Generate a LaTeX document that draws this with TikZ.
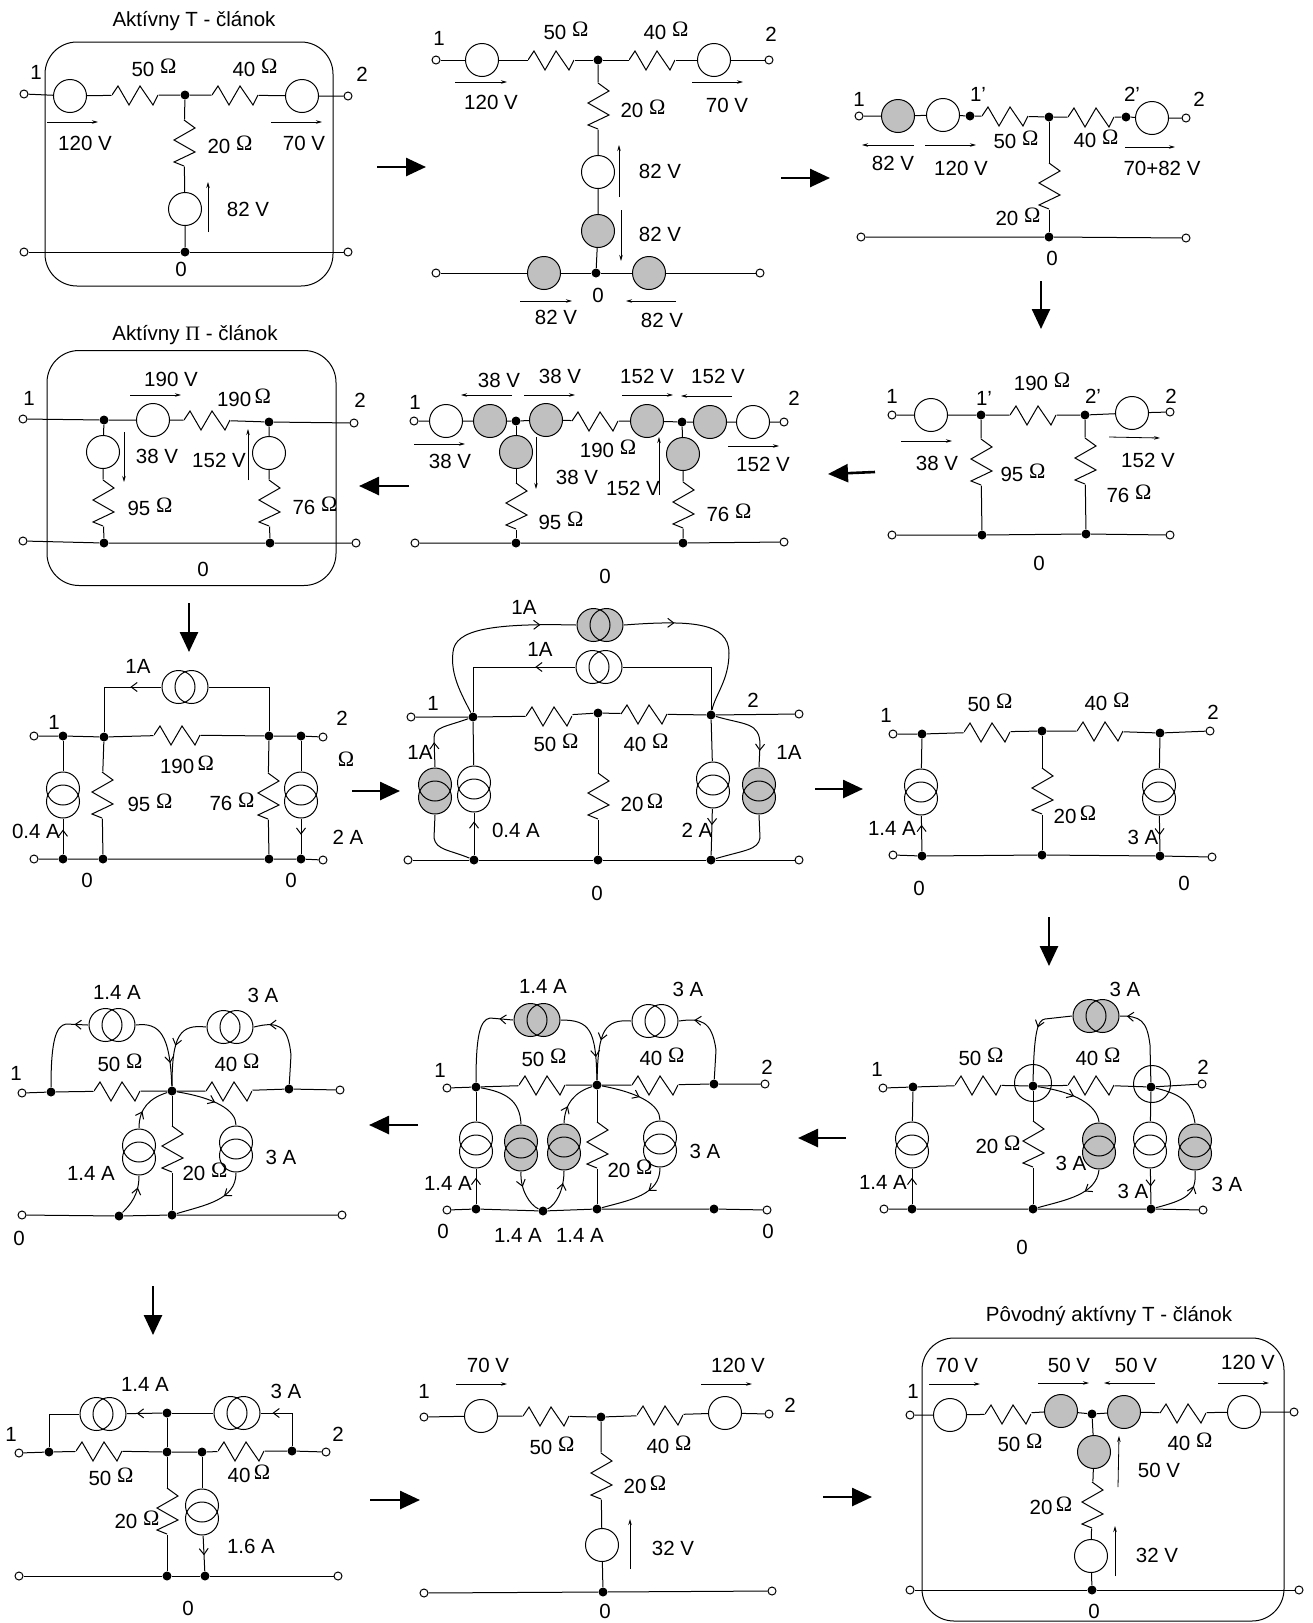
\documentclass[tikz,border=0pt]{standalone}
\usepackage{fontspec}
\setmainfont{Liberation Sans}
\newfontfamily\omfont{Liberation Serif}
\usetikzlibrary{arrows.meta,decorations.markings}
\definecolor{srcgray}{RGB}{192,192,192}
\newcommand{\Om}{\raisebox{2.5pt}{\fontsize{22}{24}\omfont Ω}}
\newcommand{\putnodes}[2]{\foreach \n/\x/\y in {#2}{\node[#1] (\n) at (\x,\y) {};}}
\newcommand{\labels}[1]{\foreach \x/\y/\txt [count=\k] in {#1}{\node[lbl] (lab\k) at (\x,\y) {\txt};}}
\newcommand{\volts}[1]{\foreach \xa/\ya/\xb/\yb [count=\k] in {#1}{
    \coordinate (ua\k) at (\xa,\ya);
    \coordinate (ub\k) at (\xb,\yb);
    \draw [arrow] (ua\k) -- (ub\k);}}
\newcommand{\flows}[1]{\foreach \xa/\ya/\xb/\yb [count=\k] in {#1}{
    \coordinate (fa\k) at (\xa,\ya);
    \coordinate (fb\k) at (\xb,\yb);
    \draw [flow] (fa\k) -- (fb\k);}}
\tikzstyle{arrow} = [line width=0.8pt,-{Stealth[length=6pt,width=3.5pt]}]
\tikzstyle{flow} = [line width=2.6pt,-{Triangle[length=20pt,width=18pt]}]
\tikzstyle{lbl} = [inner sep=0pt, font=\fontsize{20.5}{24}\selectfont]
\tikzstyle{term} = [circle, draw, fill=white, inner sep=0pt, minimum size=8pt]
\tikzstyle{joint} = [circle, fill=black, inner sep=0pt, minimum size=9pt]
\tikzstyle{ring} = [circle, draw, inner sep=0pt, minimum size=37pt]
\tikzstyle{framebox} = [draw, rounded corners=32pt, inner sep=0pt]
\tikzset{
    vsrc/.style={circle, draw, fill=#1, inner sep=0pt, minimum size=33pt},
    vsrc/.default=white,
    isrch/.style={inner sep=0pt, minimum width=47pt, minimum height=35pt, path picture={
        \begin{scope}[shift={(path picture bounding box.center)}]
            \fill [#1] (-6.5,0) circle (16.5pt) (6.5,0) circle (16.5pt);
            \draw (-6.5,0) circle (16.5pt) (6.5,0) circle (16.5pt);
        \end{scope}}},
    isrch/.default=white,
    isrcv/.style={inner sep=0pt, minimum width=35pt, minimum height=47pt, path picture={
        \begin{scope}[shift={(path picture bounding box.center)}]
            \fill [#1] (0,-6.5) circle (16.5pt) (0,6.5) circle (16.5pt);
            \draw (0,-6.5) circle (16.5pt) (0,6.5) circle (16.5pt);
        \end{scope}}},
    isrcv/.default=white,
    resh/.style={inner sep=0pt, minimum width=46pt, minimum height=24pt, path picture={
        \draw [shift={(path picture bounding box.center)}] (-23,0) -- (-17,-9) -- (-6,10) -- (5,-9) -- (18,10) -- (23,0);}},
    resv/.style={inner sep=0pt, minimum width=26pt, minimum height=46pt, path picture={
        \draw [shift={(path picture bounding box.center)}] (0,-23) -- (11,-15) -- (-10,-3) -- (11,9) -- (-10,19) -- (0,23);}},
    imark/.style={postaction={decorate, decoration={markings,
        mark=at position #1 with {\arrow{Straight Barb[length=6pt,width=9pt]}}}}}
}

\begin{document}
\begin{tikzpicture}[x=1pt, y=-1pt, line width=1pt]
    \useasboundingbox (0,0) rectangle (1313,1623);

    \begin{scope}[name prefix=a]
        \node (box) [framebox, minimum width=288pt, minimum height=244pt] at (189,164) {};
        \putnodes{term}{t1/24/94,t2/348/96,t3/24/252,t4/348/252}
        \putnodes{joint}{j1/185/95,j2/185/252}
        \putnodes{vsrc}{v1/70/96,v2/302/96,v3/185/209}
        \putnodes{resh}{r1/135/95,r2/235/95}
        \putnodes{resv}{r3/184/143}
        \draw (t1) -- (v1) -- (r1) -- (j1) -- (r2) -- (v2) -- (t2);
        \draw (j1) -- (r3) -- (v3) -- (j2);
        \draw (t3) -- (j2) -- (t4);
        \volts{47/122/98/122,271/122/322/122,208/232/208/182}
        \labels{194/21/Aktívny T - článok,36/72/1,362/74/2,154/68/50 \Om,255/68/40 \Om,85/143/120 V,304/143/70 V,230/145/20 \Om,248/209/82 V,181/269/0}
    \end{scope}

    \begin{scope}[name prefix=b]
        \putnodes{term}{t1/436/60,t2/769/60,t3/436/273,t4/760/273}
        \putnodes{joint}{j1/598/60,j2/596/273}
        \putnodes{vsrc}{v1/482/60,v2/714/60,v3/598/172}
        \putnodes{vsrc=srcgray}{g1/598/231,g2/544/273,g3/649/273}
        \putnodes{resh}{r1/551/60,r2/652/60}
        \putnodes{resv}{r3/598/106}
        \draw (t1) -- (v1) -- (r1) -- (j1) -- (r2) -- (v2) -- (t2);
        \draw (j1) -- (r3) -- (v3) -- (g1) -- (j2);
        \draw (t3) -- (g2) -- (j2) -- (g3) -- (t4);
        \volts{455/82/507/82,692/82/743/82,619/197/619/145,621/210/621/261,520/301/572/301,676/301/626/301}
        \labels{439/38/1,771/34/2,566/31/50 \Om,666/31/40 \Om,491/102/120 V,727/105/70 V,643/109/20 \Om,660/171/82 V,660/234/82 V,598/295/0,556/317/82 V,662/320/82 V}
    \end{scope}

    \begin{scope}[name prefix=c]
        \putnodes{term}{t1/859/116,t2/1186/118,t3/861/237,t4/1186/238}
        \putnodes{joint}{j1/970/116,j2/1049/117,j3/1126/117,j4/1049/237}
        \putnodes{vsrc}{v1/943/115,v2/1152/118}
        \putnodes{vsrc=srcgray}{g1/898/116}
        \putnodes{resh}{r1/1005/116,r2/1091/117}
        \putnodes{resv}{r3/1049/186}
        \draw (t1) -- (g1) -- (v1) -- (j1) -- (r1) -- (j2) -- (r2) -- (j3) -- (v2) -- (t2);
        \draw (j2) -- (r3) -- (j4);
        \draw (t3) -- (j4) -- (t4);
        \volts{914/145/862/145,925/145/976/145,1125/147/1175/147}
        \labels{859/99/1,978/94/1',1132/94/2',1199/99/2,1016/140/50 \Om,1096/139/40 \Om,893/163/82 V,961/168/120 V,1162/168/70+82 V,1018/217/20 \Om,1052/258/0}
    \end{scope}

    \begin{scope}[name prefix=d]
        \putnodes{term}{t1/892/415,t2/1170/412,t3/892/535,t4/1170/535}
        \putnodes{joint}{j1/981/415,j2/1085/415,j3/982/535,j4/1086/534}
        \putnodes{vsrc}{v1/931/415,v2/1132/413}
        \putnodes{resh}{r1/1033/415}
        \putnodes{resv}{r2/981/462,r3/1085/461}
        \draw (t1) -- (v1) -- (j1) -- (r1) -- (j2) -- (v2) -- (t2);
        \draw (j1) -- (r2) -- (j3);
        \draw (j2) -- (r3) -- (j4);
        \draw (t3) -- (j3) -- (j4) -- (t4);
        \volts{901/441/952/441,1109/437/1160/438}
        \labels{892/396/1,984/398/1',1042/382/190 \Om,1093/396/2',1171/396/2,937/463/38 V,1023/473/95 \Om,1148/460/152 V,1129/494/76 \Om,1039/563/0}
    \end{scope}

    \begin{scope}[name prefix=e]
        \putnodes{term}{t1/414/421,t2/784/422,t3/415/543,t4/784/542}
        \putnodes{joint}{j1/516/421,j2/682/422,j3/516/543,j4/683/543}
        \putnodes{vsrc}{v1/446/421,v2/753/422}
        \putnodes{vsrc=srcgray}{g1/490/421,g2/546/420,g3/647/421,g4/710/422,g5/516/452,g6/683/454}
        \putnodes{resh}{r1/595/421}
        \putnodes{resv}{r2/516/506,r3/683/505}
        \draw (t1) -- (v1) -- (g1) -- (j1) -- (g2) -- (r1) -- (g3) -- (j2) -- (g4) -- (v2) -- (t2);
        \draw (j1) -- (g5) -- (r2) -- (j3);
        \draw (j2) -- (g6) -- (r3) -- (j4);
        \draw (t3) -- (j3) -- (j4) -- (t4);
        \volts{512/395/461/395,524/395/575/395,622/395/673/395,732/396/681/396,414/444/465/444,728/446/779/446,536/437/536/489,659/495/659/437}
        \labels{415/402/1,499/380/38 V,560/376/38 V,647/376/152 V,718/376/152 V,794/398/2,450/461/38 V,763/464/152 V,608/449/190 \Om,577/477/38 V,633/488/152 V,561/521/95 \Om,729/513/76 \Om,605/576/0}
    \end{scope}

    \begin{scope}[name prefix=f]
        \node (box) [framebox, minimum width=289pt, minimum height=235pt] at (191.5,468) {};
        \putnodes{term}{t1/23/419,t2/354/423,t3/23/541,t4/356/543}
        \putnodes{joint}{j1/104/420,j2/269/422,j3/104/543,j4/270/543}
        \putnodes{vsrc}{v1/153/420,v2/103/452,v3/269/453}
        \putnodes{resh}{r1/207/420}
        \putnodes{resv}{r2/103/503,r3/269/503}
        \draw (t1) -- (j1) -- (v1) -- (r1) -- (j2) -- (t2);
        \draw (j1) -- (v2) -- (r2) -- (j3);
        \draw (j2) -- (v3) -- (r3) -- (j4);
        \draw (t3) -- (j3) -- (j4) -- (t4);
        \volts{130/395/181/395,124/432/124/482,248/480/248/429}
        \labels{195/335/Aktívny {\omfont Π} - článok,29/398/1,360/400/2,171/379/190 V,244/398/190\,\Om,157/456/38 V,219/460/152 V,150/507/95 \Om,315/506/76 \Om,203/569/0}
    \end{scope}

    \begin{scope}[name prefix=g]
        \putnodes{term}{t1/34/736,t2/323/737,t3/34/859,t4/323/860}
        \putnodes{joint}{j1/63/736,j2/104/737,j3/269/736,j4/301/736,j5/63/859,j6/103/859,j7/269/859,j8/301/859}
        \putnodes{isrch}{i1/185/687}
        \putnodes{isrcv}{i2/63/795,i3/301/795}
        \putnodes{resh}{r1/177/735}
        \putnodes{resv}{r2/102/795,r3/268/796}
        \draw (t1) -- (j1) -- (j2) -- (r1) -- (j3) -- (j4) -- (t2);
        \draw (t3) -- (j5) -- (j6) -- (j7) -- (j8) -- (t4);
        \draw [imark=0.3] (i1) -| (j2);
        \draw (i1) -| (j3);
        \draw (j1) -- (i2);
        \draw [imark=0.7] (j5) -- (i2);
        \draw (j2) -- (r2) -- (j6);
        \draw (j3) -- (r3) -- (j7);
        \draw (j4) -- (i3);
        \draw [imark=0.45] (i3) -- (j8);
        \labels{54/722/1,342/718/2,346/760/\Om,138/666/1A,187/765/190\,\Om,150/803/95 \Om,232/802/76 \Om,36/831/0.4 A,348/837/2 A,87/880/0,291/880/0}
    \end{scope}

    \begin{scope}[name prefix=h]
        \putnodes{term}{t1/411/717,t2/799/714,t3/408/860,t4/799/860}
        \putnodes{joint}{j1/473/717,j2/598/713,j3/711/715,j4/474/860,j5/598/860,j6/711/860}
        \putnodes{isrch=srcgray}{i1/600/625}
        \putnodes{isrch}{i2/599/667}
        \putnodes{isrcv=srcgray}{i3/435/791,i6/759/791}
        \putnodes{isrcv}{i4/474/789,i5/713/785}
        \putnodes{resh}{r1/549/716,r2/644/714}
        \putnodes{resv}{r3/598/796}
        \draw (t1) -- (j1) -- (r1) -- (j2) -- (r2) -- (j3) -- (t2);
        \draw (t3) -- (j4) -- (j5) -- (j6) -- (t4);
        \draw (j2) -- (r3) -- (j5);
        \draw [imark=0.82] (j1) .. controls (462,695) and (450,675) .. (453,652) .. controls (455,630) and (490,623) .. (i1.west);
        \draw [imark=0.28] (i1.east) .. controls (690,620) and (729,622) .. (729,653) .. controls (729,680) and (715,695) .. (j3);
        \draw [imark=0.27] (i2) -| (j1);
        \draw (i2) -| (j3);
        \draw (j1) -- (i4);
        \draw [imark=0.8] (j4) -- (i4);
        \draw (j3) -- (i5);
        \draw [imark=0.35] (i5) -- (j6);
        \draw [imark=0.35] (i3.north) -- (434,738) .. controls (434,727) and (445,727) .. (j1);
        \draw (i3.south) -- (434,838) .. controls (436,850) and (450,850) .. (j4);
        \draw [imark=0.8] (j3) .. controls (745,725) and (760,722) .. (760,745) -- (i6.north);
        \draw (i6.south) -- (760,838) .. controls (758,850) and (745,850) .. (j6);
        \labels{524/607/1A,540/649/1A,433/703/1,753/700/2,556/743/50 \Om,646/743/40 \Om,420/752/1A,789/752/1A,516/830/0.4 A,642/803/20\,\Om,697/830/2 A,597/893/0}
    \end{scope}

    \begin{scope}[name prefix=i]
        \putnodes{term}{t1/893/734,t2/1210/731,t3/893/855,t4/1212/857}
        \putnodes{joint}{j1/922/734,j2/1042/731,j3/1160/733,j4/922/856,j5/1042/855,j6/1160/856}
        \putnodes{isrcv}{i1/921/792,i2/1159/792}
        \putnodes{resh}{r1/987/732,r2/1100/731}
        \putnodes{resv}{r3/1042/791}
        \draw (t1) -- (j1) -- (r1) -- (j2) -- (r2) -- (j3) -- (t2);
        \draw (t3) -- (j4) -- (j5) -- (j6) -- (t4);
        \draw (j2) -- (r3) -- (j5);
        \draw (j1) -- (i1);
        \draw [imark=0.75] (j4) -- (i1);
        \draw (j3) -- (i2);
        \draw [imark=0.55] (i2) -- (j6);
        \labels{886/715/1,990/703/50 \Om,1107/702/40 \Om,1213/712/2,1075/815/20\,\Om,892/828/1.4 A,1143/837/3 A,919/888/0,1184/883/0}
    \end{scope}

    \begin{scope}[name prefix=j]
        \putnodes{term}{t1/883/1088,t2/1202/1084,t3/884/1209,t4/1203/1210}
        \putnodes{joint}{j1/913/1087,j2/1033/1086,j3/1151/1087,j4/912/1209,j5/1033/1209,j6/1151/1209}
        \putnodes{ring}{c1/1033/1083,c2/1152/1084}
        \putnodes{isrch=srcgray}{i1/1096/1016}
        \putnodes{isrcv}{i2/912/1145,i3/1150/1145}
        \putnodes{isrcv=srcgray}{i4/1099/1146,i5/1195/1147}
        \putnodes{resh}{r1/978/1085,r2/1091/1085}
        \putnodes{resv}{r3/1033/1144}
        \draw (t1) -- (j1) -- (r1) -- (j2) -- (r2) -- (j3) -- (t2);
        \draw (t3) -- (j4) -- (j5) -- (j6) -- (t4);
        \draw (j2) -- (r3) -- (j5);
        \draw (j1) -- (i2);
        \draw [imark=0.75] (j4) -- (i2);
        \draw (j3) -- (i3);
        \draw [imark=0.5] (i3) -- (j6);
        \draw [imark=0.42] (i1.west) -- (1045,1019) .. controls (1038,1020) and (1034,1030) .. (j2);
        \draw [imark=0.92] (j3) -- (1150,1045) .. controls (1147,1020) and (1140,1016) .. (i1.east);
        \draw [imark=0.5] (j2) .. controls (1075,1092) and (1097,1105) .. (i4.north);
        \draw [imark=0.35] (i4.south) .. controls (1096,1195) and (1065,1200) .. (j5);
        \draw (j3) .. controls (1185,1095) and (1192,1105) .. (i5.north);
        \draw [imark=0.75] (j6) .. controls (1185,1200) and (1197,1195) .. (i5.south);
        \labels{1125/989/3 A,981/1057/50 \Om,1098/1057/40 \Om,877/1069/1,1203/1067/2,998/1145/20 \Om,1071/1163/3 A,883/1182/1.4 A,1133/1191/3 A,1227/1184/3 A,1022/1247/0}
    \end{scope}

    \begin{scope}[name prefix=k]
        \putnodes{term}{t1/447/1088,t2/765/1084,t3/447/1210,t4/767/1210}
        \putnodes{joint}{j1/476/1087,j2/597/1085,j3/714/1084,j4/476/1209,j5/543/1211,j6/597/1209,j7/714/1209}
        \putnodes{isrch=srcgray}{i1/537/1020}
        \putnodes{isrch}{i2/655/1021}
        \putnodes{isrcv}{i3/476/1145,i6/660/1144}
        \putnodes{isrcv=srcgray}{i4/521/1148,i5/564/1147}
        \putnodes{resh}{r1/542/1085,r2/655/1085}
        \putnodes{resv}{r3/597/1145}
        \draw (t1) -- (j1) -- (r1) -- (j2) -- (r2) -- (j3) -- (t2);
        \draw (t3) -- (j4) -- (j5) -- (j6) -- (j7) -- (t4);
        \draw (j2) -- (r3) -- (j6);
        \draw (j1) -- (i3);
        \draw [imark=0.75] (j4) -- (i3);
        \draw [imark=0.15] (i1.west) -- (490,1018) .. controls (480,1020) and (476,1035) .. (j1);
        \draw [imark=0.72] (i1.east) .. controls (590,1020) and (596,1030) .. (j2);
        \draw [imark=0.5] (i2.west) .. controls (605,1019) and (598,1030) .. (j2);
        \draw [imark=0.82] (j3) -- (716,1050) .. controls (712,1020) and (700,1018) .. (i2.east);
        \draw (j1) .. controls (505,1092) and (520,1100) .. (i4.north);
        \draw [imark=0.35] (i4.south) .. controls (520,1190) and (530,1205) .. (j5);
        \draw [imark=0.72] (j5) .. controls (556,1205) and (564,1190) .. (i5.south);
        \draw [imark=0.35] (i5.north) .. controls (565,1103) and (575,1092) .. (j2);
        \draw [imark=0.55] (j2) .. controls (640,1093) and (660,1105) .. (i6.north);
        \draw [imark=0.35] (i6.south) .. controls (660,1195) and (630,1200) .. (j6);
        \labels{543/986/1.4 A,688/989/3 A,544/1058/50 \Om,662/1057/40 \Om,440/1070/1,767/1067/2,705/1151/3 A,630/1169/20 \Om,448/1183/1.4 A,443/1231/0,518/1235/1.4 A,580/1235/1.4 A,768/1231/0}
    \end{scope}

    \begin{scope}[name prefix=l]
        \putnodes{term}{t1/22/1093,t2/340/1090,t3/22/1215,t4/342/1215}
        \putnodes{joint}{j1/51/1092,j2/172/1091,j3/289/1089,j4/119/1216,j5/172/1215}
        \putnodes{isrch}{i1/112/1025,i2/230/1027}
        \putnodes{isrcv}{i3/139/1152,i4/236/1149}
        \putnodes{resh}{r1/117/1091,r2/229/1091}
        \putnodes{resv}{r3/172/1149}
        \draw (t1) -- (j1) -- (r1) -- (j2) -- (r2) -- (j3) -- (t2);
        \draw (t3) -- (j4) -- (j5) -- (t4);
        \draw (j2) -- (r3) -- (j5);
        \draw [imark=0.15] (i1.west) -- (66,1024) .. controls (56,1026) and (51,1040) .. (j1);
        \draw [imark=0.72] (i1.east) .. controls (160,1022) and (170,1035) .. (j2);
        \draw [imark=0.5] (i2.west) .. controls (180,1024) and (172,1035) .. (j2);
        \draw [imark=0.82] (j3) -- (291,1055) .. controls (288,1025) and (278,1021) .. (i2.east);
        \draw [imark=0.35] (i3.north) .. controls (139,1108) and (150,1098) .. (j2);
        \draw [imark=0.72] (j4) .. controls (130,1205) and (139,1195) .. (i3.south);
        \draw [imark=0.55] (j2) .. controls (215,1098) and (236,1110) .. (i4.north);
        \draw [imark=0.35] (i4.south) .. controls (236,1200) and (205,1205) .. (j5);
        \labels{117/992/1.4 A,263/995/3 A,120/1063/50 \Om,237/1063/40 \Om,16/1073/1,91/1173/1.4 A,205/1172/20 \Om,281/1157/3 A,19/1238/0}
    \end{scope}

    \begin{scope}[name prefix=m]
        \putnodes{term}{t1/19/1453,t2/326/1452,t3/19/1576,t4/338/1576}
        \putnodes{joint}{j1/49/1452,j2/167/1452,j3/202/1452,j4/292/1451,j5/167/1413,j6/167/1576,j7/205/1576}
        \putnodes{isrch}{i1/103/1414,i2/237/1413}
        \putnodes{isrcv}{i3/202/1512}
        \putnodes{resh}{r1/99/1451,r2/241/1451}
        \putnodes{resv}{r3/167/1511}
        \draw (t1) -- (j1) -- (r1) -- (j2) -- (j3) -- (r2) -- (j4) -- (t2);
        \draw (t3) -- (j6) -- (j7) -- (t4);
        \draw (i1) -| (j1);
        \draw [imark=0.72] (j5) -- (i1);
        \draw (j5) -- (i2);
        \draw [imark=0.82] (j4) |- (i2);
        \draw (j5) -- (j2) -- (r3) -- (j6);
        \draw (j3) -- (i3);
        \draw [imark=0.55] (i3) -- (j7);
        \labels{145/1384/1.4 A,286/1391/3 A,11/1434/1,338/1434/2,111/1477/50 \Om,249/1474/40\,\Om,137/1520/20 \Om,251/1546/1.6 A,188/1608/0}
    \end{scope}

    \begin{scope}[name prefix=n]
        \putnodes{term}{t1/424/1417,t2/769/1414,t3/424/1593,t4/772/1591}
        \putnodes{joint}{j1/601/1417,j2/603/1592}
        \putnodes{vsrc}{v1/481/1416,v2/725/1413,v3/602/1545}
        \putnodes{resh}{r1/546/1416,r2/660/1415}
        \putnodes{resv}{r3/601/1476}
        \draw (t1) -- (v1) -- (r1) -- (j1) -- (r2) -- (v2) -- (t2);
        \draw (j1) -- (r3) -- (v3) -- (j2);
        \draw (t3) -- (j2) -- (t4);
        \volts{456/1384/507/1384,701/1384/752/1384,630/1569/630/1519}
        \labels{488/1365/70 V,738/1365/120 V,424/1391/1,790/1405/2,552/1446/50 \Om,669/1445/40 \Om,645/1485/20\,\Om,673/1548/32 V,605/1611/0}
    \end{scope}

    \begin{scope}[name prefix=o]
        \node (box) [framebox, minimum width=362pt, minimum height=283pt] at (1103,1479.5) {};
        \putnodes{term}{t1/910/1415,t2/1294/1412,t3/910/1590,t4/1299/1590}
        \putnodes{joint}{j1/1092/1414,j2/1092/1590}
        \putnodes{vsrc}{v1/950/1415,v2/1244/1412,v3/1091/1556}
        \putnodes{vsrc=srcgray}{g1/1061/1411,g2/1124/1412,g3/1094/1452}
        \putnodes{resh}{r1/1008/1414,r2/1183/1413}
        \putnodes{resv}{r3/1092/1505}
        \draw (t1) -- (v1) -- (r1) -- (g1) -- (j1) -- (g2) -- (r2) -- (v2) -- (t2);
        \draw (j1) -- (g3) -- (r3) -- (v3) -- (j2);
        \draw (t3) -- (j2) -- (t4);
        \volts{929/1384/980/1384,1038/1383/1089/1383,1155/1383/1104/1383,1218/1383/1269/1383,1118/1487/1119/1436,1115/1576/1115/1526}
        \labels{1109/1316/Pôvodný aktívny T - článok,957/1365/70 V,1069/1365/50 V,1136/1365/50 V,1248/1362/120 V,913/1391/1,1020/1443/50 \Om,1190/1442/40 \Om,1159/1470/50 V,1051/1506/20\,\Om,1157/1555/32 V,1094/1611/0}
    \end{scope}

    \flows{377/167/426/167,781/178/830/178,1041/281/1041/329,875/472/828/474,409/486/359/486,189/603/189/652,352/791/400/791,815/789/863/789,1049/917/1049/966,846/1138/798/1138,418/1125/369/1125,153/1286/153/1335,370/1500/420/1500,823/1497/872/1497}
\end{tikzpicture}
\end{document}
